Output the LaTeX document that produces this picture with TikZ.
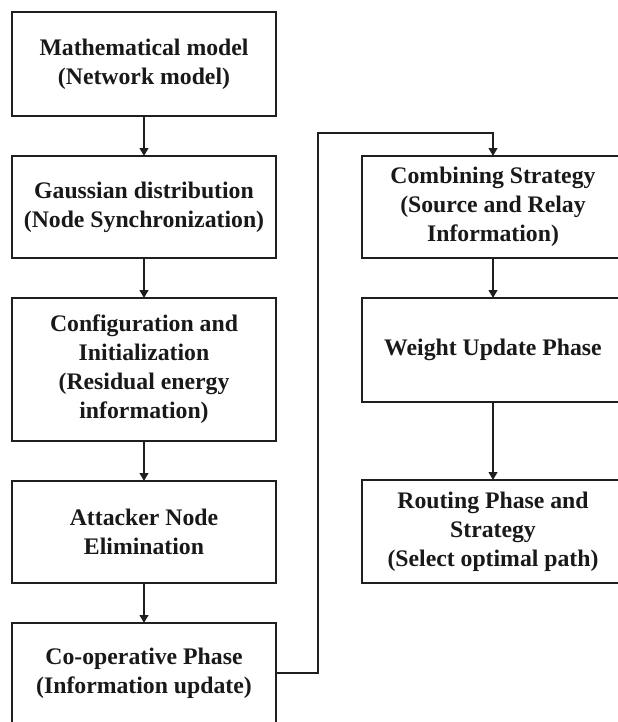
\documentclass[tikz,border=0pt]{standalone}
\usepackage{fontspec}
\setmainfont{Liberation Serif}
\usetikzlibrary{arrows.meta}
\begin{document}
\begin{tikzpicture}[x=0.75pt,y=-0.75pt,
  box/.style={draw=black!88, line width=2.2pt, fill=white, align=center,
    font=\fontsize{17.8}{21.75}\selectfont\bfseries, text=black!90,
    inner sep=0pt, outer sep=0pt},
  lbox/.style={box, minimum width=264*0.75pt},
  rbox/.style={box, minimum width=262*0.75pt},
  flow/.style={draw=black!88, line width=1.9pt,
    -{Triangle[length=6pt,width=6.5pt]}}]
\useasboundingbox (0,0) rectangle (618,722);
% left column
\node[lbox, minimum height=104*0.75pt] (m1) at (144,64) {Mathematical model\\(Network model)};
\node[lbox, minimum height=102*0.75pt] (m2) at (144,207) {Gaussian distribution\\(Node Synchronization)};
\node[lbox, minimum height=143*0.75pt] (m3) at (144,369.5) {Configuration and\\Initialization\\(Residual energy\\information)};
\node[lbox, minimum height=102*0.75pt] (m4) at (144,532) {Attacker Node\\Elimination};
\node[lbox, minimum height=100*0.75pt] (m5) at (144,673) {Co-operative Phase\\(Information update)};
% right column
\node[rbox, minimum height=102*0.75pt] (r1) at (493,207) {Combining Strategy\\(Source and Relay\\Information)};
\node[rbox, minimum height=104*0.75pt] (r2) at (493,350) {Weight Update Phase};
\node[rbox, minimum height=103*0.75pt] (r3) at (493,531.5) {Routing Phase and\\Strategy\\(Select optimal path)};
% connectors
\draw[flow] (m1) -- (m2);
\draw[flow] (m2) -- (m3);
\draw[flow] (m3) -- (m4);
\draw[flow] (m4) -- (m5);
\coordinate (c1) at (318,673);
\coordinate (c2) at (318,133);
\coordinate (c3) at (493,133);
\draw[flow] (m5.east) -- (c1) -- (c2) -- (c3) -- (r1.north);
\draw[flow] (r1) -- (r2);
\draw[flow] (r2) -- (r3);
\end{tikzpicture}
\end{document}
